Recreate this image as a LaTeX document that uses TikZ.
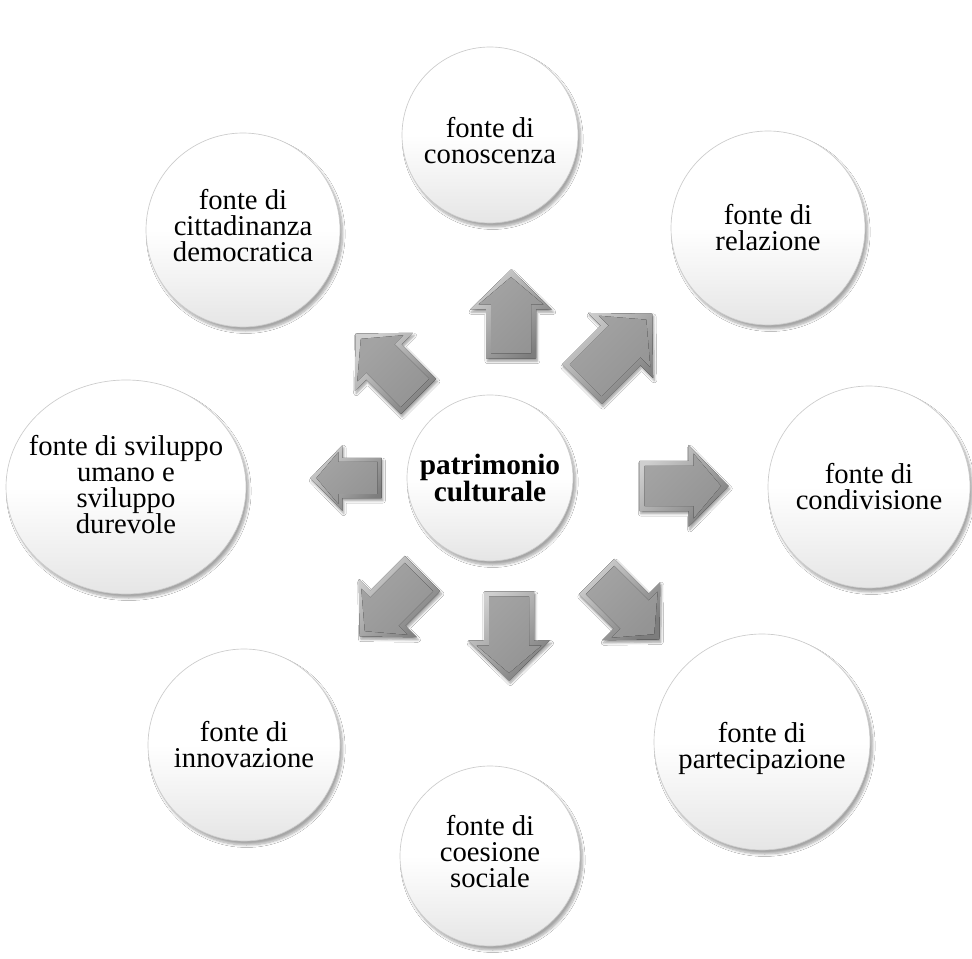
\documentclass[tikz,border=0pt]{standalone}
\usepackage{fontspec}
\setmainfont{Liberation Serif}
\usetikzlibrary{shapes.geometric,shadows.blur}
\tikzset{
  bubble/.style={circle, draw=gray!40, line width=0.5pt, inner sep=0pt,
    top color=white, bottom color=gray!20, middle color=white,
    blur shadow={shadow xshift=2pt, shadow yshift=-3pt, shadow blur steps=8, shadow opacity=35}},
  lbl/.style={align=center, text=black, inner sep=0pt, font=\fontsize{21.5}{19.5}\selectfont},
  barrow/.pic={
    \fill[blur shadow={shadow xshift=1pt, shadow yshift=-2pt, shadow blur steps=5, shadow opacity=40},
          top color=gray!38, bottom color=gray!98!black, shading angle=45]
      (-44.5,-25) -- (4.5,-25) -- (4.5,-41) -- (44.5,0) -- (4.5,41) -- (4.5,25) -- (-44.5,25) -- cycle;
    \fill[top color=gray!72, bottom color=gray!84, shading angle=45]
      (-39.5,-20) -- (9.5,-20) -- (9.5,-32.5) -- (37,0) -- (9.5,32.5) -- (9.5,20) -- (-39.5,20) -- cycle;
  }
}
\begin{document}
\begin{tikzpicture}[x=0.75pt,y=-0.75pt]
\useasboundingbox (0,0) rectangle (972,959);
\fill[white] (0,0) rectangle (972,959);

\node[bubble, minimum size={176*0.75pt}, label={[lbl,yshift=-4.5pt]center:{fonte di\\conoscenza}}] (con) at (490,135) {};
\node[bubble, minimum size={194*0.75pt}, label={[lbl]center:{fonte di\\relazione}}] (rel) at (768,228) {};
\node[bubble, minimum size={202*0.75pt}, label={[lbl]center:{fonte di\\condivisione}}] (cond) at (869,487) {};
\node[bubble, minimum size={216*0.75pt}, label={[lbl,yshift=-4.5pt]center:{fonte di\\partecipazione}}] (part) at (762,742) {};
\node[bubble, minimum size={180*0.75pt}, label={[lbl,yshift=3pt]center:{fonte di\\coesione\\sociale}}] (coes) at (490,856) {};
\node[bubble, minimum size={192*0.75pt}, label={[lbl]center:{fonte di\\innovazione}}] (inn) at (244,745) {};
\node[bubble, ellipse, minimum width={240*0.75pt}, minimum height={214*0.75pt}, label={[lbl,yshift=1.5pt]center:{fonte di sviluppo\\umano e\\sviluppo\\durevole}}] (svil) at (126,487) {};
\node[bubble, minimum size={194*0.75pt}, label={[lbl,yshift=3pt]center:{fonte di\\cittadinanza\\democratica}}] (citt) at (243,230) {};
\node[bubble, minimum size={166*0.75pt}, label={[lbl,font=\fontsize{22}{19.5}\selectfont\bfseries]center:{patrimonio\\culturale}}] (pat) at (490,478) {};

\pic[rotate=90] at (511,314) {barrow};
\pic[rotate=0] at (684,486) {barrow};
\pic[rotate=180, scale=0.8] at (346,478) {barrow};
\pic[rotate=-90] at (509,636) {barrow};
\pic[rotate=45, scale=1.12] at (617,349) {barrow};
\pic[rotate=135] at (387,365) {barrow};
\pic[rotate=-45] at (628,608) {barrow};
\pic[rotate=-135] at (391,605) {barrow};
\end{tikzpicture}
\end{document}
